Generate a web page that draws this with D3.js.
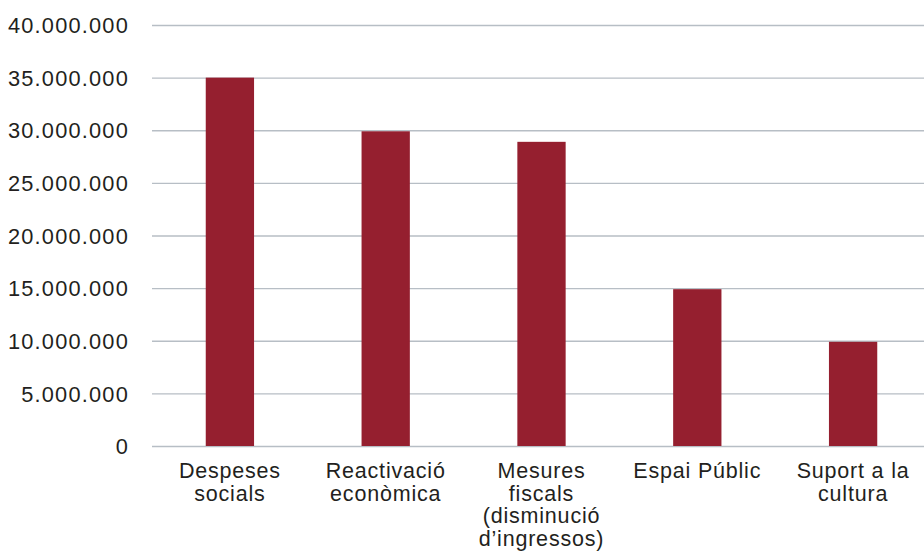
<!DOCTYPE html>
<html><head><meta charset="utf-8">
<script src="https://cdn.jsdelivr.net/npm/d3@7"></script>
<style>body{margin:0;background:#fff}svg{display:block}text{font-family:"Liberation Sans",Arial,Helvetica,sans-serif;fill:#231f20;letter-spacing:0.8px}</style>
</head><body><svg id="c" width="924" height="552"></svg>
<script>
const categories = [
  ["Despeses", "socials"],
  ["Reactivació", "econòmica"],
  ["Mesures", "fiscals", "(disminució", "d\u2019ingressos)"],
  ["Espai Públic"],
  ["Suport a la", "cultura"]
];
const values = [35000000, 29900000, 28900000, 14900000, 9900000];
const yTicks = [0, 5000000, 10000000, 15000000, 20000000, 25000000, 30000000, 35000000, 40000000];

(function () {
const svg = d3.select("#c");
const mLeft = 152, mRight = 931, mTop = 25, mBottom = 446;
const x = d3.scaleBand().domain(d3.range(values.length)).range([mLeft, mRight]).paddingInner(0.69).paddingOuter(0.345);
const y = d3.scaleLinear().domain([0, 40000000]).range([mBottom, mTop]);
const fmt = v => d3.format(",")(v).replace(/,/g, ".");

const yAxis = d3.axisLeft(y).tickValues(yTicks).tickSize(-(924 - mLeft)).tickPadding(23).tickFormat(fmt);
const g = svg.append("g").attr("transform", `translate(${mLeft},0)`).call(yAxis);
g.select(".domain").remove();
g.selectAll(".tick line").attr("stroke", "#b7bec5").attr("stroke-width", 1.4);
g.selectAll(".tick text").attr("font-size", 21.8).attr("fill", "#231f20").attr("dy", "0.35em")
  .style("font-family", '"Liberation Sans",Arial,sans-serif').style("letter-spacing", "1.2px");

svg.append("g").selectAll("rect").data(values).join("rect")
  .attr("x", (d, i) => x(i)).attr("width", x.bandwidth())
  .attr("y", d => y(d)).attr("height", d => y(0) - y(d))
  .attr("fill", "#951f2f");

const lab = svg.append("g").selectAll("text").data(categories).join("text")
  .attr("text-anchor", "middle").attr("font-size", 21.5)
  .attr("x", (d, i) => x(i) + x.bandwidth() / 2).attr("y", 478);
lab.selectAll("tspan").data(d => d).join("tspan")
  .attr("x", function () { return d3.select(this.parentNode).attr("x"); })
  .attr("dy", (d, i) => i === 0 ? 0 : 22.5)
  .text(d => d);
})();
</script></body></html>
